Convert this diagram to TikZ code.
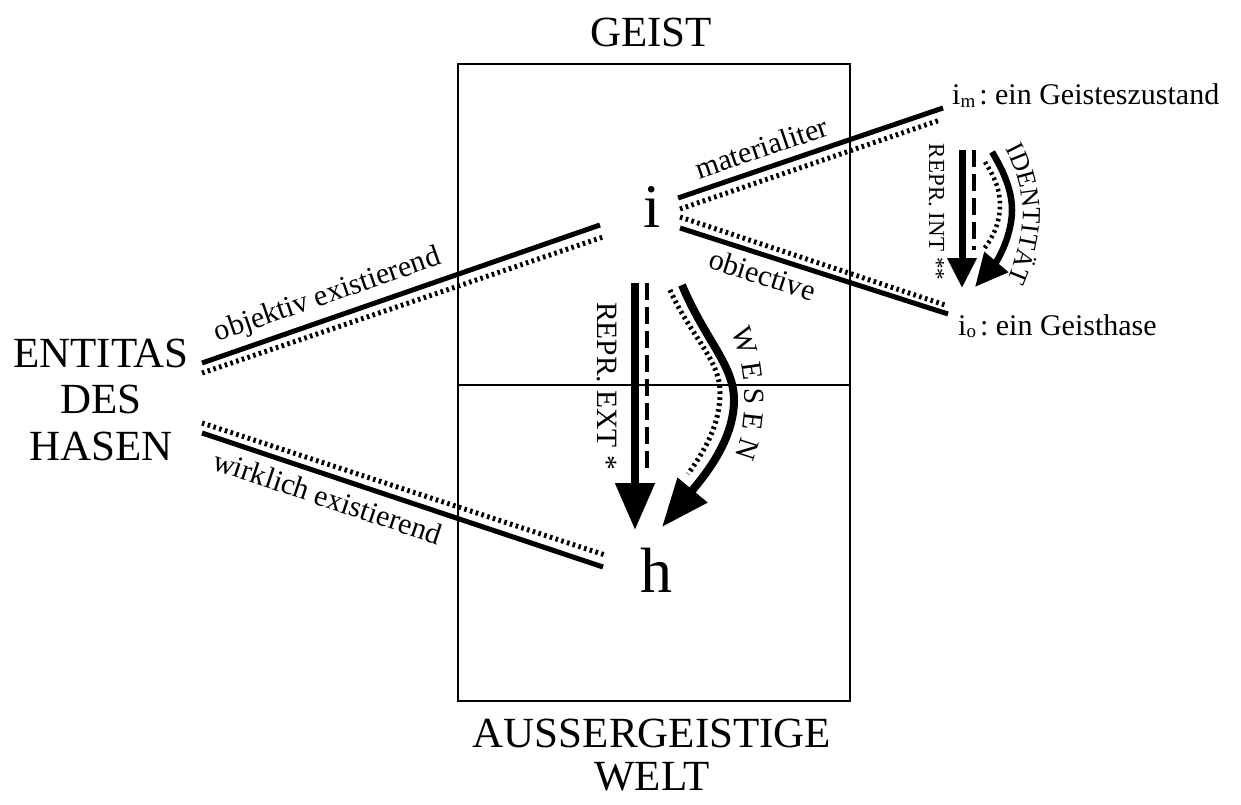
\documentclass[tikz,border=0pt]{standalone}
\usepackage{fontspec}
\setmainfont{Liberation Serif}
\usetikzlibrary{arrows.meta,decorations.text}
\begin{document}
\begin{tikzpicture}[x=1pt,y=1pt,
  bigtxt/.style={font=\fontsize{43}{46}\selectfont, inner sep=0pt, anchor=base},
  lab/.style={font=\fontsize{30}{32}\selectfont, inner sep=0pt},
  solidln/.style={line width=5pt},
  dotln/.style={line width=5pt, dash pattern=on 2.6pt off 3.4pt},
  dashln/.style={line width=4pt, dash pattern=on 17pt off 7pt},
  boxln/.style={line width=2.6pt},
  shaft/.style={line width=8pt},
  ]
\useasboundingbox (0,0) rectangle (1241,-805);

% box
\draw[boxln] (458,-64) rectangle (850,-701);
\draw[line width=2pt] (458,-385) -- (850,-385);

% texts
\node[bigtxt] (geist) at (651,-47) {GEIST};
\node[bigtxt] (ent1) at (101,-367) {ENTITAS};
\node[bigtxt] (ent2) at (101,-413) {DES};
\node[bigtxt] (ent3) at (101,-460) {HASEN};
\node[bigtxt] (aus1) at (652,-747) {AUSSERGEISTIGE};
\node[bigtxt] (aus2) at (652,-790) {WELT};
\node[font=\fontsize{62}{62}\selectfont, inner sep=0pt, anchor=base] (i) at (652,-227) {i};
\node[font=\fontsize{64}{64}\selectfont, inner sep=0pt, anchor=base] (h) at (656,-592) {h};
\node[lab, anchor=base west] (im) at (952,-105) {i\raisebox{-3pt}{\fontsize{19}{19}\selectfont m}\kern4pt:\ ein Geisteszustand};
\node[lab, anchor=base west] (io) at (958,-335) {i\raisebox{-2pt}{\fontsize{19}{19}\selectfont o}\kern4pt:\ ein Geisthase};

% ENTITAS lines
\coordinate (oeS) at (202,-363); \coordinate (oeE) at (600,-225);
\coordinate (odS) at (202,-373); \coordinate (odE) at (603,-237);
\draw[solidln] (oeS) -- node[lab, sloped, above=6pt, pos=0.334] (lobj) {objektiv existierend} (oeE);
\draw[dotln] (odS) -- (odE);
\coordinate (weS) at (202,-433); \coordinate (weE) at (603,-567);
\coordinate (wdS) at (202,-423); \coordinate (wdE) at (605,-555);
\draw[solidln] (weS) -- node[lab, sloped, below=8pt, pos=0.33] (lwir) {wirklich existierend} (weE);
\draw[dotln] (wdS) -- (wdE);

% i lines
\coordinate (msS) at (678,-198); \coordinate (msE) at (943,-108);
\coordinate (mdS) at (680,-209); \coordinate (mdE) at (940,-120);
\draw[solidln] (msS) -- node[lab, sloped, above=8pt, pos=0.34] (lmat) {materialiter} (msE);
\draw[dotln] (mdS) -- (mdE);
\coordinate (osS) at (680,-228); \coordinate (osE) at (948,-314);
\coordinate (odS2) at (680,-217); \coordinate (odE2) at (945,-305);
\draw[solidln] (osS) -- node[lab, sloped, below=6pt, pos=0.33] (lobi) {obiective} (osE);
\draw[dotln] (odS2) -- (odE2);

% REPR. EXT
\coordinate (extTop) at (635,-283); \coordinate (extTip) at (635,-530);
\coordinate (extdTop) at (647,-283); \coordinate (extdEnd) at (647,-474);
\draw[shaft, -{Triangle[length=47pt,width=38pt]}] (extTop) -- (extTip);
\draw[dashln] (extdTop) -- (extdEnd);
\node[font=\fontsize{29.5}{30}\selectfont, inner sep=0pt, rotate=-90, anchor=base] (rext) at (597,-386) {REPR. EXT *};

% WESEN
\coordinate (wsTop) at (682,-285); \coordinate (wsMid) at (734,-400); \coordinate (wsTip) at (662,-527);
\draw[shaft, -{Triangle[length=48pt,width=37pt]}] (wsTop) .. controls (705,-340) and (734,-365) .. (wsMid) .. controls (734,-440) and (705,-475) .. (wsTip);
\coordinate (wdTop) at (670,-290); \coordinate (wdMid) at (720,-392); \coordinate (wdEnd) at (688,-474);
\draw[dotln] (wdTop) .. controls (690,-335) and (720,-360) .. (wdMid) .. controls (720,-425) and (705,-450) .. (wdEnd);
\coordinate (wl1) at (727,-322); \coordinate (wl2) at (730,-465);
\path[decorate, decoration={text along path, text={|\fontsize{29}{29}\selectfont|W E S E N}, text align=center}] (wl1) .. controls (748,-360) and (752,-430) .. (wl2);

% REPR. INT
\coordinate (intTop) at (962,-150); \coordinate (intTip) at (962,-288);
\coordinate (intdTop) at (974,-150); \coordinate (intdEnd) at (974,-250);
\draw[line width=7pt, -{Triangle[length=30pt,width=28pt]}] (intTop) -- (intTip);
\draw[dashln] (intdTop) -- (intdEnd);
\node[font=\fontsize{23}{24}\selectfont, inner sep=0pt, rotate=-90, anchor=base] (rint) at (929,-212) {REPR. INT **};

% IDENTITAET
\coordinate (isTop) at (992,-152); \coordinate (isMid) at (1012,-210); \coordinate (isTip) at (975,-287);
\draw[line width=6.5pt, -{Triangle[length=33pt,width=30pt]}] (isTop) .. controls (1003,-170) and (1012,-190) .. (isMid) .. controls (1012,-235) and (998,-260) .. (isTip);
\coordinate (idTop) at (985,-162); \coordinate (idMid) at (1000,-205); \coordinate (idEnd) at (983,-250);
\draw[dotln, line width=4.5pt] (idTop) .. controls (995,-178) and (1000,-190) .. (idMid) .. controls (1000,-222) and (993,-238) .. (idEnd);
\coordinate (il1) at (1000,-140); \coordinate (ilm) at (1023,-212); \coordinate (il2) at (1003,-290);
\path[decorate, decoration={text along path, text={|\fontsize{26}{26}\selectfont|IDENTITÄT}, text align=center}] (il1) .. controls (1013,-160) and (1023,-188) .. (ilm) .. controls (1023,-240) and (1015,-265) .. (il2);
\end{tikzpicture}
\end{document}
